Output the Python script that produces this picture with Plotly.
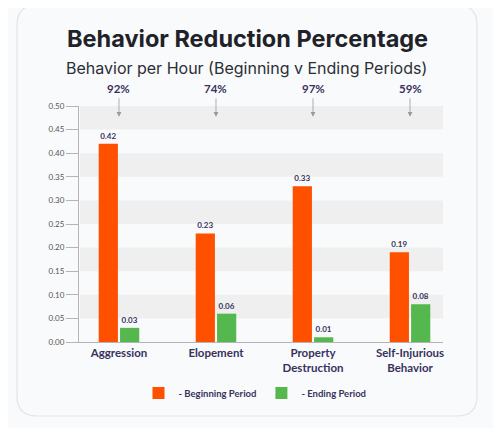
import plotly.graph_objects as go

categories = ["Aggression", "Elopement", "Property<br>Destruction", "Self-Injurious<br>Behavior"]
beginning = [0.42, 0.23, 0.33, 0.19]
ending = [0.03, 0.06, 0.01, 0.08]
reduction_labels = ["92%", "74%", "97%", "59%"]
y_ticks = [0.0, 0.05, 0.10, 0.15, 0.20, 0.25, 0.30, 0.35, 0.40, 0.45, 0.50]

OFF = 8  # default page body margin
W, H = 501 - OFF, 428 - OFF
L, R, T, B = 79, 443, 106, 342  # plot area in page pixels

def px(x):
    return (x - L) / (R - L)

def py(y):
    return (B - y) / (B - T)

NAVY = "#37325e"
fig = go.Figure()
fig.add_trace(go.Bar(
    x=categories, y=beginning, name="- Beginning Period",
    marker=dict(color="#ff5000", line=dict(width=0)),
    texttemplate="%{y:.2f}", textposition="outside",
    textfont=dict(size=8, color=NAVY, family="Lato", weight="bold"),
    cliponaxis=False,
))
fig.add_trace(go.Bar(
    x=categories, y=ending, name="- Ending Period",
    marker=dict(color="#55b84f", line=dict(width=0)),
    texttemplate="%{y:.2f}", textposition="outside",
    textfont=dict(size=8, color=NAVY, family="Lato", weight="bold"),
    cliponaxis=False,
))

shapes = []
x0, x1, y0, y1, r = px(17), px(477), py(5), py(416), 20
rx = r / (R - L)
ry = r / (B - T)
path = (f"M {x0+rx},{y0} L {x1-rx},{y0} Q {x1},{y0} {x1},{y0-ry} "
        f"L {x1},{y1+ry} Q {x1},{y1} {x1-rx},{y1} L {x0+rx},{y1} "
        f"Q {x0},{y1} {x0},{y1+ry} L {x0},{y0-ry} Q {x0},{y0} {x0+rx},{y0} Z")
shapes.append(dict(type="path", xref="paper", yref="paper", path=path,
                   fillcolor="#f9fafb", line=dict(color="#e3e5e8", width=1.2), layer="below"))
for i in range(0, len(y_ticks) - 1):
    lo, hi = y_ticks[i], y_ticks[i + 1]
    if i % 2 == 1:
        shapes.append(dict(type="rect", xref="paper", yref="y", x0=px(80), x1=1,
                           y0=lo, y1=hi, fillcolor="#efeff0", line=dict(width=0), layer="below"))

annotations = [
    dict(text="<b>Behavior Reduction Percentage</b>", xref="paper", yref="paper",
         x=px(247), y=py(38), xanchor="center", yanchor="middle", showarrow=False,
         font=dict(family="Inter", size=23.5, color="#1f2229", weight=800)),
    dict(text="Behavior per Hour (Beginning v Ending Periods)", xref="paper", yref="paper",
         x=px(246), y=py(68), xanchor="center", yanchor="middle", showarrow=False,
         font=dict(family="Inter", size=16, color="#2b2e35")),
]
for cat, lab in zip(categories, reduction_labels):
    annotations.append(dict(text=lab, x=cat, xref="x", yref="paper", y=py(88),
                            xanchor="center", yanchor="middle", showarrow=False,
                            font=dict(family="Lato", size=11.5, color=NAVY, weight="bold")))
    annotations.append(dict(text="", x=cat, xref="x", y=0.477, yref="y",
                            showarrow=True, ax=0, ay=-20, arrowhead=2, arrowsize=1.2,
                            arrowwidth=0.8, arrowcolor="#9a9a9a"))

fig.update_layout(
    width=W, height=H,
    margin=dict(l=L - OFF, r=W - (R - OFF), t=T - OFF, b=H - (B - OFF)),
    paper_bgcolor="#f9fafb", plot_bgcolor="rgba(0,0,0,0)",
    barmode="group", bargap=0.56, bargroupgap=0.1,
    shapes=shapes, annotations=annotations,
    showlegend=True,
    legend=dict(orientation="h", x=px(255), xanchor="center", y=py(393), yanchor="middle",
                font=dict(family="Lato", size=9.5, color=NAVY, weight="bold"),
                bgcolor="rgba(0,0,0,0)", itemwidth=30, traceorder="normal"),
    xaxis=dict(type="category", range=[-0.412, 3.34], showgrid=False,
               showline=True, linecolor="#b5b5b8", linewidth=1,
               tickfont=dict(family="Lato", size=11.5, color=NAVY, weight="bold"),
               ticks="", fixedrange=True),
    yaxis=dict(range=[0, 0.5], tickvals=y_ticks, tickformat=".2f", showgrid=False,
               zeroline=False, showline=True, linecolor="#b5b5b8", linewidth=1,
               ticks="outside", ticklen=12, tickcolor="#b5b5b8",
               tickfont=dict(family="Lato", size=8, color="#555"), fixedrange=True),
)
fig.write_html("out.html")
